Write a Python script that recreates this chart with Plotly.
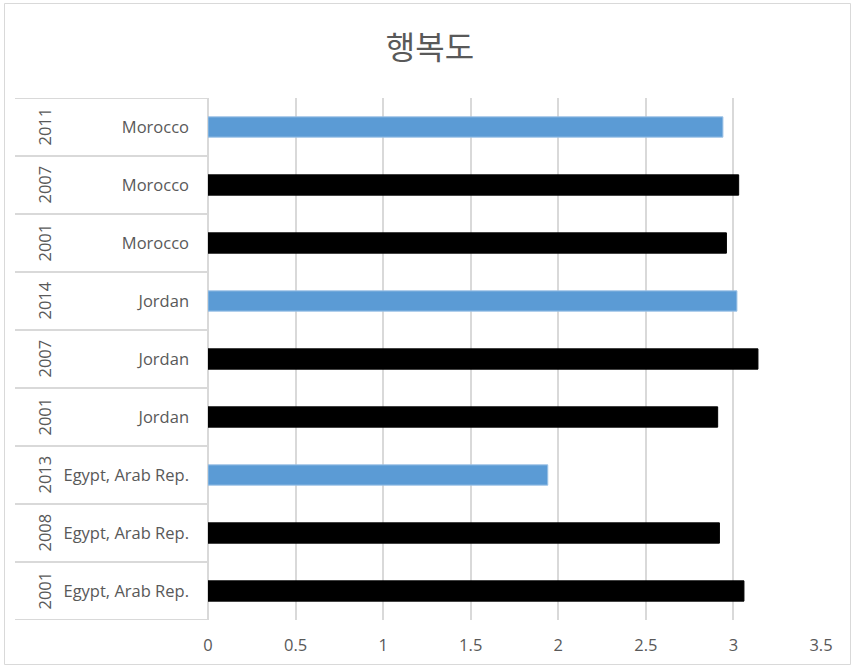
import plotly.graph_objects as go

countries = ["Egypt, Arab Rep.", "Egypt, Arab Rep.", "Egypt, Arab Rep.",
             "Jordan", "Jordan", "Jordan",
             "Morocco", "Morocco", "Morocco"]
years = ["2001", "2008", "2013", "2001", "2007", "2014", "2001", "2007", "2011"]
values = [3.06, 2.92, 1.94, 2.91, 3.14, 3.02, 2.96, 3.03, 2.94]
latest = [False, False, True, False, False, True, False, False, True]
x_ticks = [0, 0.5, 1, 1.5, 2, 2.5, 3, 3.5]

BLUE = "#5B9BD5"
GRID = "#D9D9D9"
TXT = "#595959"
FONT = "Open Sans"
FS = 16.5

W, H = 854, 667
L, R, T, B = 208, 33, 98, 47
pw = W - L - R
ph = H - T - B

def px_x(p):
    return (p - L) / pw

def px_y(p):
    return (H - B - p) / ph

idx = list(range(len(values)))
colors = [BLUE if f else "#000000" for f in latest]
lines = ["#9DC3E6" if f else "#000000" for f in latest]

fig = go.Figure()
fig.add_trace(go.Bar(
    x=values, y=idx, orientation="h", width=0.35,
    marker=dict(color=colors, line=dict(color=lines, width=1)),
    hoverinfo="x+y", showlegend=False,
))

shapes = []
# separator lines of the category table
for i in range(len(values) + 1):
    shapes.append(dict(type="line", xref="paper", yref="y",
                       x0=px_x(15), x1=0, y0=i - 0.5, y1=i - 0.5,
                       line=dict(color=GRID, width=2), layer="below"))
# chart border
shapes.append(dict(type="rect", xref="paper", yref="paper",
                   x0=px_x(4.5), x1=px_x(850.5), y0=px_y(664.5), y1=px_y(3.5),
                   line=dict(color=GRID, width=1), layer="below"))

annotations = []
for i, yr in enumerate(years):
    annotations.append(dict(x=px_x(30), y=i, xref="paper", yref="y",
                            text=yr, textangle=-90, showarrow=False,
                            font=dict(family=FONT, size=FS, color=TXT)))

fig.update_layout(
    width=W, height=H,
    margin=dict(l=L, r=R, t=T, b=B),
    paper_bgcolor="white", plot_bgcolor="white",
    title=dict(text="행복도", x=430 / W, xref="container", xanchor="center",
               y=1 - 48 / H, yref="container", yanchor="middle",
               font=dict(family="Noto Sans CJK KR", size=32, color=TXT)),
    xaxis=dict(range=[0, 3.5], tickvals=x_ticks,
               ticktext=[f"{v:g}" for v in x_ticks],
               showgrid=True, gridcolor=GRID, gridwidth=2,
               zeroline=True, zerolinecolor=GRID, zerolinewidth=2,
               showline=False, ticks="", ticklabelstandoff=13,
               tickfont=dict(family=FONT, size=FS, color=TXT), fixedrange=True),
    yaxis=dict(range=[-0.5, len(values) - 0.5], tickvals=idx, ticktext=countries,
               showgrid=False, zeroline=False, showline=False, ticks="",
               ticklabelstandoff=18,
               tickfont=dict(family=FONT, size=FS, color=TXT), fixedrange=True),
    shapes=shapes, annotations=annotations,
    bargap=0.65,
)

fig.write_html("out.html")
